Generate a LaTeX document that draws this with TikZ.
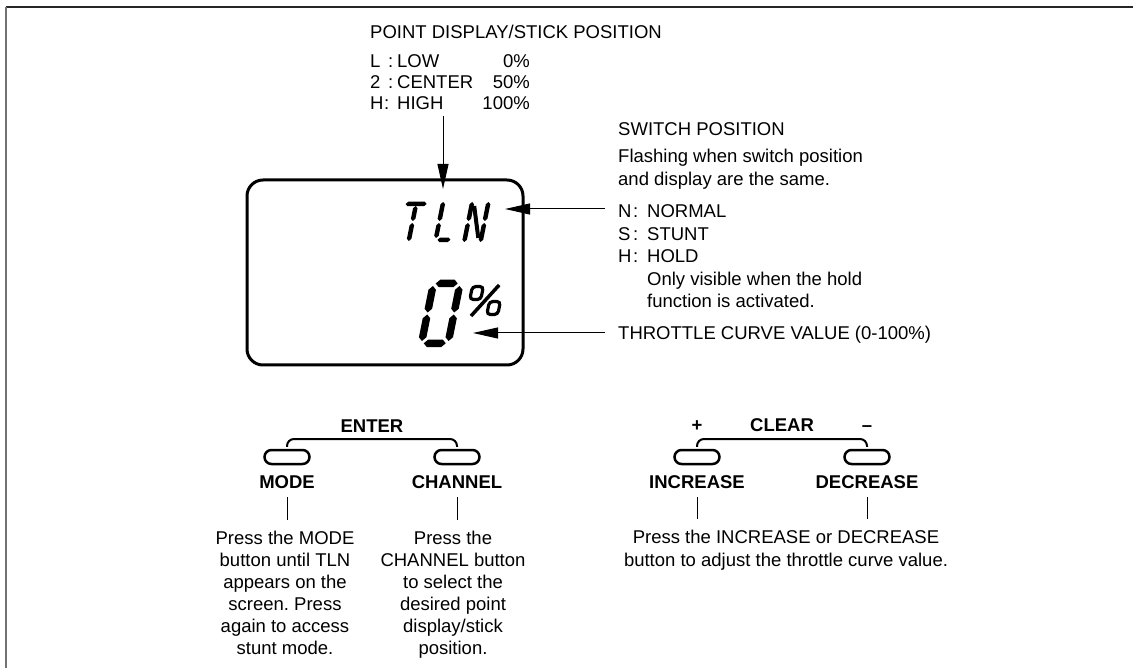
\documentclass[tikz,border=0pt]{standalone}
\usepackage{fontspec}
\setmainfont{Liberation Sans}
\usetikzlibrary{arrows.meta}
\frenchspacing
% LCD segments: vertical (x, y1, y2, thickness) and horizontal (y, x1, x2, thickness)
\newcommand\lcdv[4]{\fill (#1,#2) -- (#1+#4/2,#2+#4/2) -- (#1+#4/2,#3-#4/2) -- (#1,#3) -- (#1-#4/2,#3-#4/2) -- (#1-#4/2,#2+#4/2) -- cycle;}
\newcommand\lcdh[4]{\fill (#2,#1) -- (#2+#4/2,#1+#4/2) -- (#3-#4/2,#1+#4/2) -- (#3,#1) -- (#3-#4/2,#1-#4/2) -- (#2+#4/2,#1-#4/2) -- cycle;}
\begin{document}
\begin{tikzpicture}[x=1pt,y=-1pt,
  txt/.style={inner sep=0pt, font=\fontsize{18.5}{22}\selectfont},
  btxt/.style={inner sep=0pt, font=\fontsize{18.5}{22}\selectfont\bfseries},
  conn/.style={line width=1pt},
  arr/.style={line width=1pt, -{Triangle[length=25pt,width=11pt]}},
  btn/.style={draw, line width=2.5pt, minimum width=45pt, minimum height=14pt, rounded corners=7pt, inner sep=0pt},
  bracket/.style={line width=2pt, rounded corners=7pt},
  screen/.style={draw, line width=3pt, rounded corners=16pt, minimum width=276pt, minimum height=185pt, inner sep=0pt}]
\useasboundingbox (0,0) rectangle (1133,668);
% frame
\draw[line width=1.5pt, black!85] (6,7) -- (1133,7);
\draw[line width=2pt, black!55] (6,7) -- (6,668);

% point display / stick position
\node[txt, anchor=base west] (pdt) at (370,38.5) {POINT DISPLAY/STICK POSITION};
\node[txt, anchor=base west] (pd1) at (370,67.5) {\makebox[18pt][l]{L}\makebox[9pt][l]{:}LOW};
\node[txt, anchor=base west] (pd2) at (370,89) {\makebox[18pt][l]{2}\makebox[9pt][l]{:}CENTER};
\node[txt, anchor=base west] (pd3) at (370,110) {\makebox[14pt][l]{H}\makebox[13pt][l]{:}HIGH};
\node[txt, anchor=base east] (pv1) at (530,67.5) {0\%};
\node[txt, anchor=base east] (pv2) at (530,89) {50\%};
\node[txt, anchor=base east] (pv3) at (530,110) {100\%};

% screen
\node[screen] (screen) at (385,272.5) {};

% TLN
\begin{scope}[shift={(398,242)}, xslant=0.2, y=1pt]
  \lcdh{38}{0}{21}{4.5}
  \lcdv{10.5}{21}{36}{4.5}
  \lcdv{10.5}{1}{19}{4.5}
\end{scope}
\begin{scope}[shift={(433,242)}, xslant=0.2, y=1pt]
  \lcdv{2.2}{21}{40}{4.5}
  \lcdv{2.2}{4}{19}{4.5}
  \lcdh{2.2}{4}{17}{4.5}
\end{scope}
\begin{scope}[shift={(462,242)}, xslant=0.2, y=1pt]
  \lcdv{2.2}{21}{40}{4.5}
  \lcdv{2.2}{0}{19}{4.5}
  \lcdv{18.5}{21}{40}{4.5}
  \lcdv{18.5}{0}{19}{4.5}
  \draw[line width=4pt] (5,36) -- (15.5,4);
\end{scope}
% big 0
\begin{scope}[shift={(417,347)}, xslant=0.2, y=1pt]
  \lcdh{63.5}{6}{28}{7.5}
  \lcdh{3.7}{6}{28}{7.5}
  \lcdv{3.7}{6}{32.5}{7.5}
  \lcdv{3.7}{34.5}{61}{7.5}
  \lcdv{30.3}{6}{32.5}{7.5}
  \lcdv{30.3}{34.5}{61}{7.5}
\end{scope}
% percent sign
\begin{scope}[shift={(465,316)}, xslant=0.2, y=1pt]
  \draw[line width=3.2pt, rounded corners=3.5pt] (1.5,16.5) rectangle (12.5,29.5);
  \draw[line width=3.2pt, rounded corners=3.5pt] (21.5,1.5) rectangle (32.5,14.5);
  \draw[line width=3.5pt] (6,0) -- (28,31);
\end{scope}

% arrows
\coordinate (pa) at (443,116);
\coordinate (pb) at (443,189);
\draw[arr] (pa) -- (pb);
\coordinate (na) at (605,209);
\coordinate (nb) at (505,209);
\draw[arr] (na) -- (nb);
\coordinate (va) at (605,333);
\coordinate (vb) at (473,333);
\draw[arr] (va) -- (vb);

% switch position
\node[txt, anchor=base west] (swt) at (618,136) {SWITCH POSITION};
\node[txt, anchor=base west] (sw1) at (618,163) {Flashing when switch position};
\node[txt, anchor=base west] (sw2) at (618,186) {and display are the same.};
\node[txt, anchor=base west] (swn) at (618,218) {\makebox[15pt][l]{N}\makebox[14pt][l]{:}NORMAL};
\node[txt, anchor=base west] (sws) at (618,241) {\makebox[15pt][l]{S}\makebox[14pt][l]{:}STUNT};
\node[txt, anchor=base west] (swh) at (618,263) {\makebox[15pt][l]{H}\makebox[14pt][l]{:}HOLD};
\node[txt, anchor=base west] (swo1) at (647,286) {Only visible when the hold};
\node[txt, anchor=base west] (swo2) at (647,308) {function is activated.};
\node[txt, anchor=base west] (thr) at (618,340) {THROTTLE CURVE VALUE (0-100\%)};

% ENTER group
\node[btxt, anchor=base] (enter) at (372,432) {ENTER};
\coordinate (entbar) at (372,439);
\node[btn] (bmode) at (287,457) {};
\node[btn] (bchan) at (457,457) {};
\draw[bracket] ([yshift=2pt]bmode.north) |- (entbar) -| ([yshift=2pt]bchan.north);
\node[btxt, anchor=base] (lmode) at (287,488) {MODE};
\node[btxt, anchor=base] (lchan) at (457,488) {CHANNEL};

\node[txt, anchor=base] (mt1) at (285,544) {Press the MODE};
\node[txt, anchor=base] (mt2) at (285,566) {button until TLN};
\node[txt, anchor=base] (mt3) at (285,588) {appears on the};
\node[txt, anchor=base] (mt4) at (285,610) {screen. Press};
\node[txt, anchor=base] (mt5) at (285,632) {again to access};
\node[txt, anchor=base] (mt6) at (285,654) {stunt mode.};

\node[txt, anchor=base] (ct1) at (453,544) {Press the};
\node[txt, anchor=base] (ct2) at (453,566) {CHANNEL button};
\node[txt, anchor=base] (ct3) at (453,588) {to select the};
\node[txt, anchor=base] (ct4) at (453,610) {desired point};
\node[txt, anchor=base] (ct5) at (453,632) {display/stick};
\node[txt, anchor=base] (ct6) at (453,654) {position.};

\draw[conn, shorten <=9pt, shorten >=10.5pt] (lmode.south) -- (lmode.south |- mt1.north);
\draw[conn, shorten <=9pt, shorten >=10.5pt] (lchan.south) -- (lchan.south |- ct1.north);

% CLEAR group
\node[btxt, anchor=base] (plus) at (697,431) {+};
\node[btxt, anchor=base] (clear) at (782,431.5) {CLEAR};
\node[btxt, anchor=base] (minus) at (867,431) {–};
\coordinate (clrbar) at (782,439);
\node[btn] (binc) at (697,457) {};
\node[btn] (bdec) at (867,457) {};
\draw[bracket] ([yshift=2pt]binc.north) |- (clrbar) -| ([yshift=2pt]bdec.north);
\node[btxt, anchor=base] (linc) at (697,488) {INCREASE};
\node[btxt, anchor=base] (ldec) at (867,488) {DECREASE};

\node[txt, anchor=base] (it1) at (786,543.5) {Press the INCREASE or DECREASE};
\node[txt, anchor=base] (it2) at (786,566.5) {button to adjust the throttle curve value.};

\draw[conn, shorten <=9pt, shorten >=10.5pt] (linc.south) -- (linc.south |- it1.north);
\draw[conn, shorten <=9pt, shorten >=10.5pt] (ldec.south) -- (ldec.south |- it1.north);
\end{tikzpicture}
\end{document}
